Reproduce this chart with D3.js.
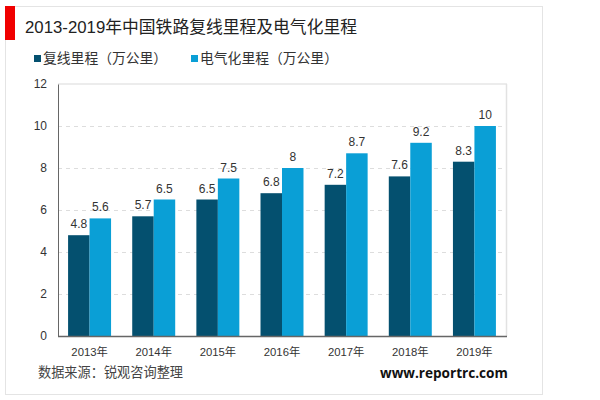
<!DOCTYPE html>
<html>
<head>
<meta charset="utf-8">
<script src="https://cdn.jsdelivr.net/npm/d3@7"></script>
<style>
html, body { margin: 0; padding: 0; background: #fff; }
text { font-family: "Liberation Sans", "Noto Sans CJK SC", sans-serif; }
</style>
</head>
<body>
<div id="chart"></div>
<script>
let years = ["2013年", "2014年", "2015年", "2016年", "2017年", "2018年", "2019年"]
let doubleTrack = [4.8, 5.7, 6.5, 6.8, 7.2, 7.6, 8.3]
let electrified = [5.6, 6.5, 7.5, 8, 8.7, 9.2, 10]
let yTicks = [0, 2, 4, 6, 8, 10, 12]
let seriesNames = ["复线里程（万公里）", "电气化里程（万公里）"]

let width = 600,
    height = 400
let svg = d3.select("#chart").append("svg")
    .attr("width", width)
    .attr("height", height)
    .style("display", "block")

// outer frame
svg.append("rect")
    .attr("x", 5.5).attr("y", 6.5)
    .attr("width", 537).attr("height", 388)
    .attr("fill", "none").attr("stroke", "#e4e4e4")

svg.append("rect")
    .attr("x", 5).attr("y", 6)
    .attr("width", 10).attr("height", 34)
    .attr("fill", "#f00000")

svg.append("text")
    .attr("x", 25).attr("y", 33)
    .attr("font-size", 16.8).attr("fill", "#222")
    .text("2013-2019年中国铁路复线里程及电气化里程")

let xScale = d3.scaleBand()
    .domain(years)
    .range([57.5, 506.5])
    .paddingInner(0.33)
    .paddingOuter(0.165)
let inner = d3.scaleBand()
    .domain([0, 1])
    .range([0, xScale.bandwidth()])
let yScale = d3.scaleLinear()
    .domain([0, 12])
    .range([336, 84])

let colors = ["#04506f", "#0a9fd6"]

// legend
let legendX = [34, 191]
seriesNames.forEach(function(name, i) {
    svg.append("rect")
        .attr("x", legendX[i]).attr("y", 55)
        .attr("width", 7).attr("height", 7)
        .attr("fill", colors[i])
    svg.append("text")
        .attr("x", legendX[i] + 9).attr("y", 63)
        .attr("font-size", 13.8).attr("fill", "#333")
        .text(name)
})

// grid: dashed inside, solid along the top and right edge
svg.append("g").selectAll("line")
    .data(yTicks.filter(function(d) { return d > 0 && d < 12; }))
    .enter().append("line")
    .attr("x1", 58).attr("x2", 507)
    .attr("y1", function(d) { return yScale(d) + 0.5; })
    .attr("y2", function(d) { return yScale(d) + 0.5; })
    .attr("stroke", "#dddddd")
    .attr("stroke-dasharray", "4,4")
svg.append("line")
    .attr("x1", 58).attr("x2", 507)
    .attr("y1", yScale(12)).attr("y2", yScale(12))
    .attr("stroke", "#e6e6e6").attr("stroke-width", 1.5)
svg.append("line")
    .attr("x1", 506.5).attr("x2", 506.5)
    .attr("y1", 84).attr("y2", 336)
    .attr("stroke", "#e2e2e2").attr("stroke-width", 1.5)

// bars
let allSeries = [doubleTrack, electrified]
allSeries.forEach(function(values, s) {
    let g = svg.append("g")
    g.selectAll("rect")
        .data(values)
        .enter().append("rect")
        .attr("x", function(d, i) { return xScale(years[i]) + inner(s); })
        .attr("y", function(d) { return yScale(d); })
        .attr("width", inner.bandwidth())
        .attr("height", function(d) { return 336 - yScale(d); })
        .attr("fill", colors[s])
    g.selectAll("text")
        .data(values)
        .enter().append("text")
        .attr("x", function(d, i) { return xScale(years[i]) + inner(s) + inner.bandwidth() / 2; })
        .attr("y", function(d) { return yScale(d) - 7; })
        .attr("text-anchor", "middle")
        .attr("font-size", 12).attr("fill", "#333")
        .text(function(d) { return d; })
})

// axes
let yAxis = d3.axisLeft(yScale).tickValues(yTicks).tickSize(0).tickPadding(11)
let yG = svg.append("g").attr("transform", "translate(58,0)").call(yAxis)
yG.select(".domain").attr("stroke", "#666").attr("stroke-width", 1)
yG.selectAll("text").attr("font-size", 12).attr("fill", "#333")
    .style("font-family", '"Liberation Sans", sans-serif')

let xAxis = d3.axisBottom(xScale).tickSize(0).tickPadding(12)
let xG = svg.append("g").attr("transform", "translate(0,336)").call(xAxis)
xG.select(".domain").attr("stroke", "#666").attr("stroke-width", 1.5)
xG.selectAll("text").attr("font-size", 11.3).attr("fill", "#333")
    .style("font-family", '"Liberation Sans", "Noto Sans CJK SC", sans-serif')

svg.append("text")
    .attr("x", 38).attr("y", 377)
    .attr("font-size", 13.2).attr("fill", "#444")
    .text("数据来源：锐观咨询整理")

svg.append("text")
    .attr("x", 380).attr("y", 378)
    .attr("font-size", 13.6).attr("font-weight", "bold").attr("fill", "#111")
    .style("font-family", '"Open Sans", sans-serif')
    .text("www.reportrc.com")
</script>
</body>
</html>
